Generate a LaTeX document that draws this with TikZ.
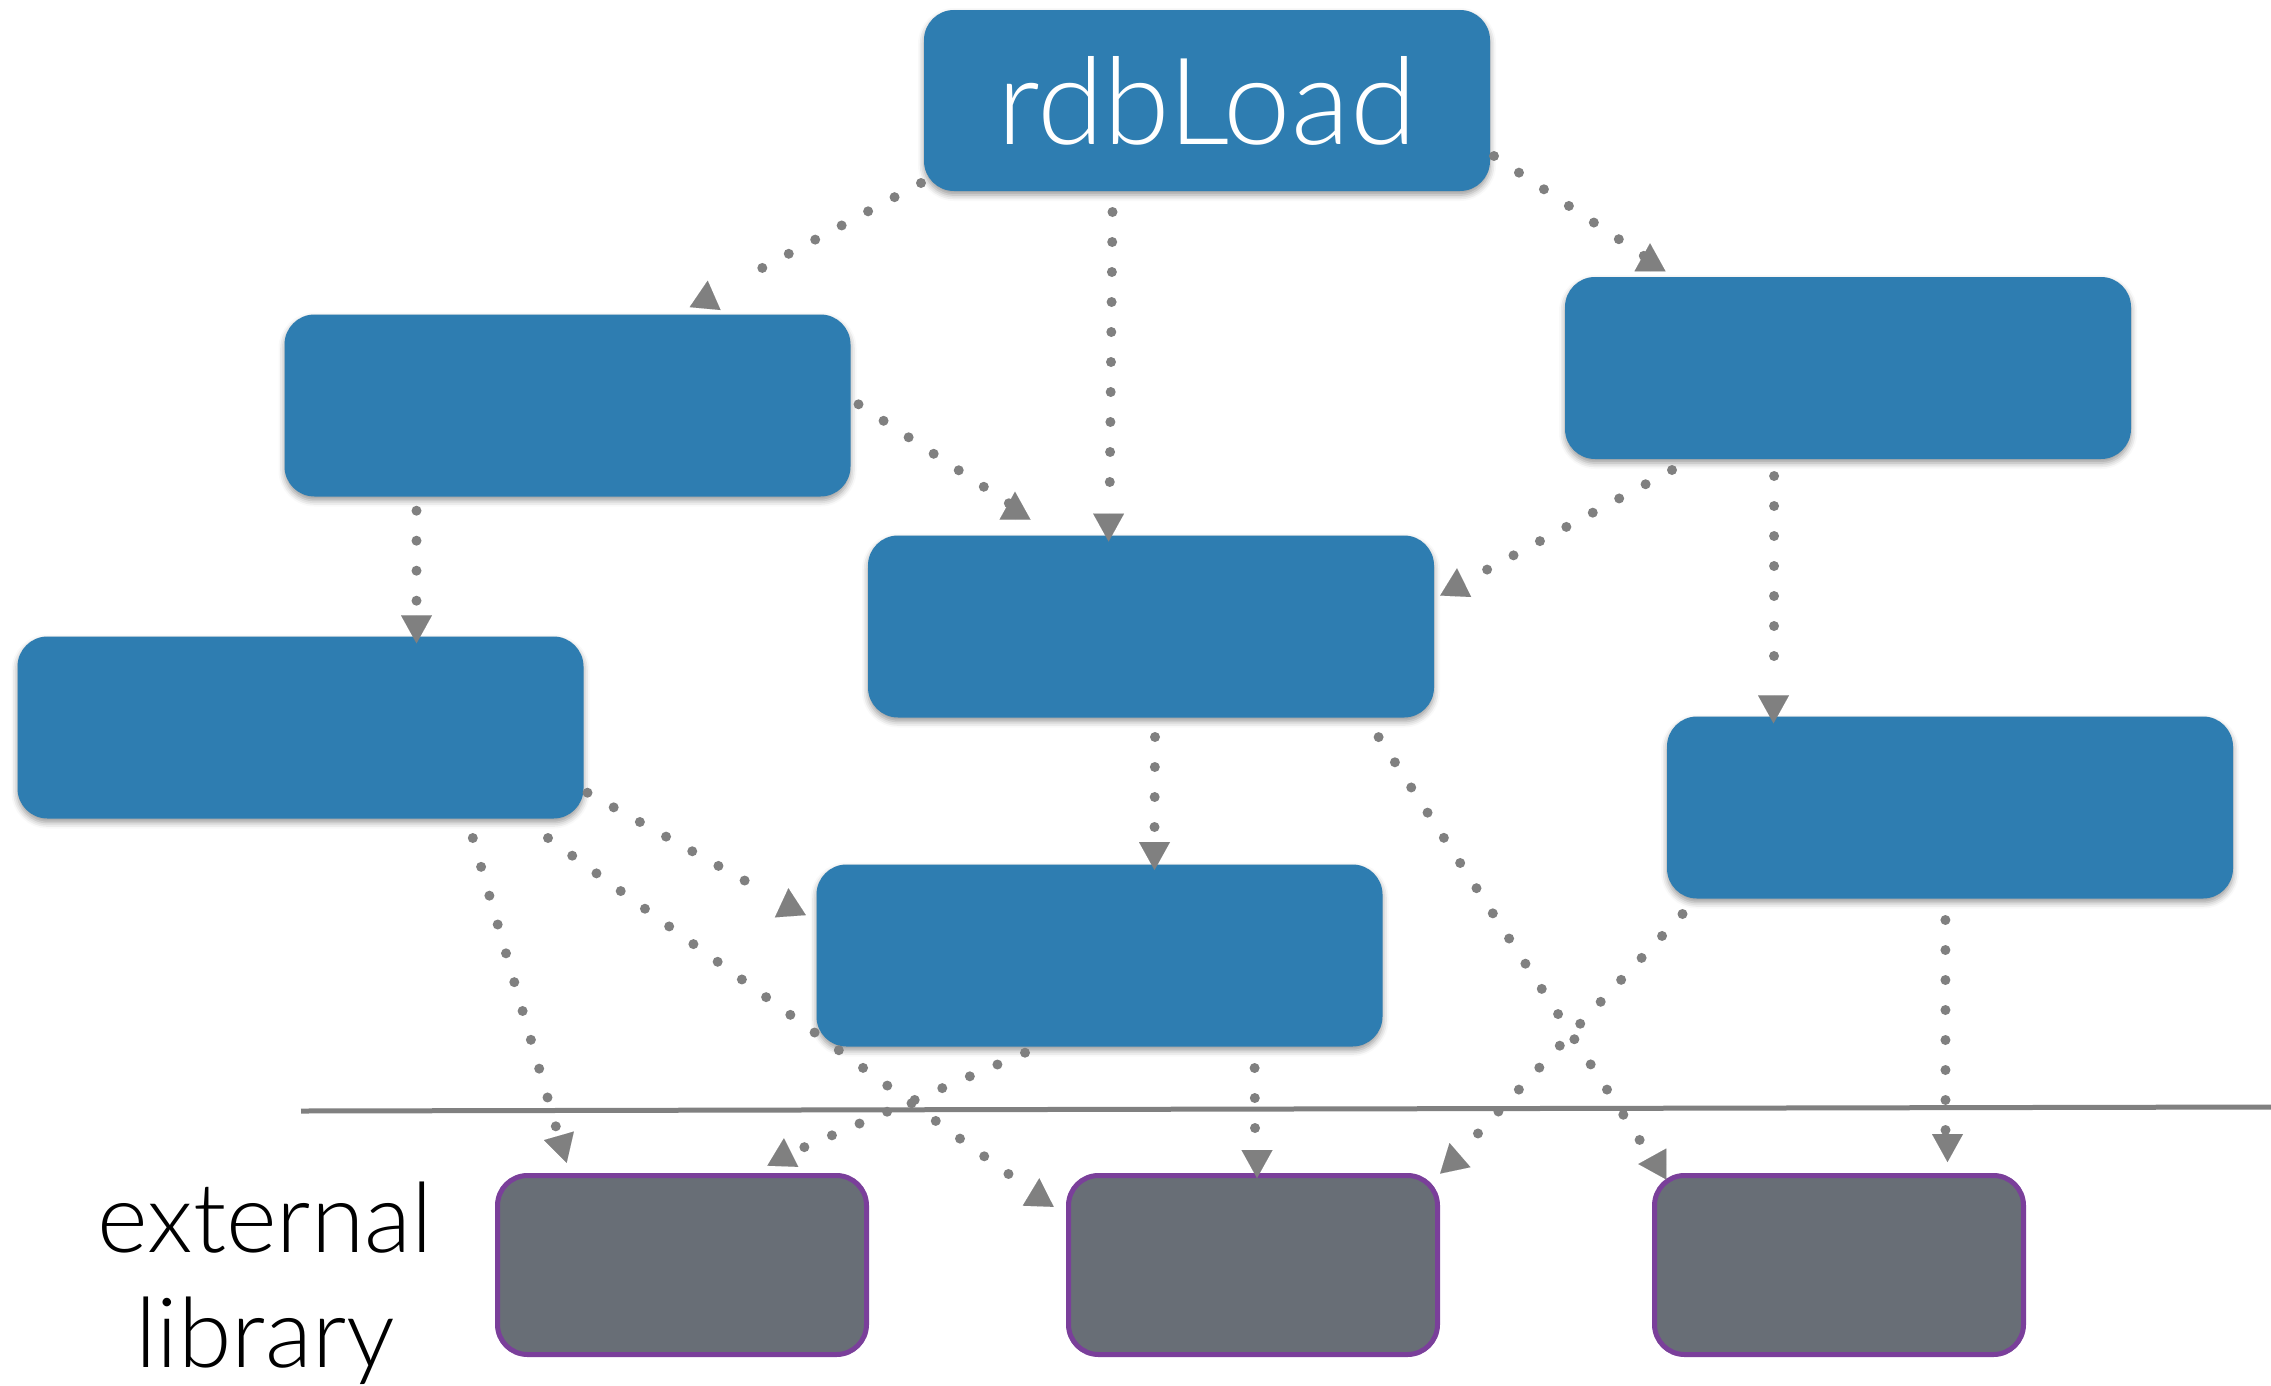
\documentclass[tikz,border=0pt]{standalone}
\usepackage{fontspec}
\newfontfamily\latolight{Lato Light}
\usetikzlibrary{arrows.meta,calc,shadows.blur}
\definecolor{boxblue}{RGB}{46,125,177}
\definecolor{libgray}{RGB}{104,110,118}
\definecolor{libpurple}{RGB}{122,63,154}
\definecolor{dotgray}{RGB}{128,128,128}
\tikzset{
  bluebox/.style={rectangle, rounded corners=30pt, fill=boxblue, minimum width=566pt, minimum height=182pt, inner sep=0pt, outer sep=0pt,
    blur shadow={shadow xshift=0pt, shadow yshift=-4pt, shadow blur radius=6pt, shadow opacity=40}},
  libbox/.style={rectangle, rounded corners=30pt, fill=libgray, draw=libpurple, line width=5pt, minimum width=369pt, minimum height=179pt, inner sep=0pt},
  dotline/.style={draw=dotgray, line width=10pt, line cap=round, dash pattern=on 0pt off 30pt},
  headtip/.style={solid, line width=0.01pt, line cap=butt, draw=dotgray, -{Triangle[length=28pt,width=31pt]}},
  sepline/.style={draw=dotgray, line width=5pt},
}
\newcommand\myconn[6]{%
  \draw[dotline] ([shift={#2}]#1.center) -- ([shift={#4}]#3.center)
    ($([shift={#5}]#3.center)!28pt!([shift={#6}]#3.center)$) edge[headtip] ([shift={#5}]#3.center);
}
\begin{document}
\begin{tikzpicture}[x=1pt,y=-1pt]
\useasboundingbox (0,0) rectangle (2271,1385);
% blue boxes
\node[bluebox, font=\latolight\fontsize{121}{136}\selectfont, text=white, minimum height=181pt] (rdb) at (1207,100.5) {rdbLoad};
\node[bluebox] (b1) at (567.5,405.5) {};
\node[bluebox] (b2) at (1848,368) {};
\node[bluebox] (b3) at (1151,626.5) {};
\node[bluebox] (b4) at (300.5,727.5) {};
\node[bluebox] (b5) at (1950,807.5) {};
\node[bluebox] (b6) at (1099.5,955.5) {};
% external library boxes
\node[libbox] (g1) at (682,1265) {};
\node[libbox] (g2) at (1253,1265) {};
\node[libbox] (g3) at (1839,1265) {};
\node[font=\latolight\fontsize{97}{115}\selectfont, align=center, inner sep=0pt] (ext) at (265,1283) {external\\library};
% separator
\draw[sepline] (301,1111) -- (2271,1107);
% connectors
\myconn{rdb}{(-286,82.5)}{b1}{(168.5,-123.5)}{(140.2,-124.8)}{(137.8,-99)}
\myconn{rdb}{(-94.5,111.5)}{b3}{(-41.5,-116.5)}{(-42.4,-85)}{(-42.4,-112.5)}
\myconn{rdb}{(287,55.5)}{b2}{(-204,-112)}{(-198,-124.7)}{(-198,-99.3)}
\myconn{b1}{(291,-1.2)}{b3}{(-142.1,-123.2)}{(-136,-134.8)}{(-136,-108.2)}
\myconn{b1}{(-151,105.2)}{b4}{(116,-126.8)}{(116,-84.2)}{(116,-112.5)}
\myconn{b2}{(-176,102)}{b3}{(335.3,-56.5)}{(306,-58.2)}{(304.8,-32.7)}
\myconn{b2}{(-73.9,108)}{b5}{(-176,-121.8)}{(-176.5,-84.2)}{(-176.5,-113.2)}
\myconn{b3}{(4,110.5)}{b6}{(55,-128)}{(55,-85.5)}{(55,-113.5)}
\myconn{b3}{(227.6,110.6)}{g3}{(-199,-124.5)}{(-200.7,-101)}{(-174.7,-101)}
\myconn{b4}{(287,65.2)}{b6}{(-329,-60.5)}{(-311.1,-67.2)}{(-309.3,-42)}
\myconn{b4}{(172.3,110.5)}{g1}{(-126,-138)}{(-115.3,-102.3)}{(-123.2,-129.8)}
\myconn{b4}{(247.5,110.5)}{g2}{(-244.5,-91)}{(-213.7,-86.7)}{(-214.7,-60.8)}
\myconn{b6}{(-74.5,97.2)}{g1}{(122,-117.7)}{(101.9,-126.7)}{(100.9,-100.8)}
\myconn{b6}{(155.1,112.5)}{g2}{(2,-137)}{(4,-87)}{(4,-113)}
\myconn{b5}{(-267.5,106.5)}{g2}{(224,-130.5)}{(196.5,-122)}{(202,-96)}
\myconn{b5}{(-4.6,112.5)}{g3}{(106.5,-135)}{(108.5,-103)}{(108.5,-130.5)}
\end{tikzpicture}
\end{document}
